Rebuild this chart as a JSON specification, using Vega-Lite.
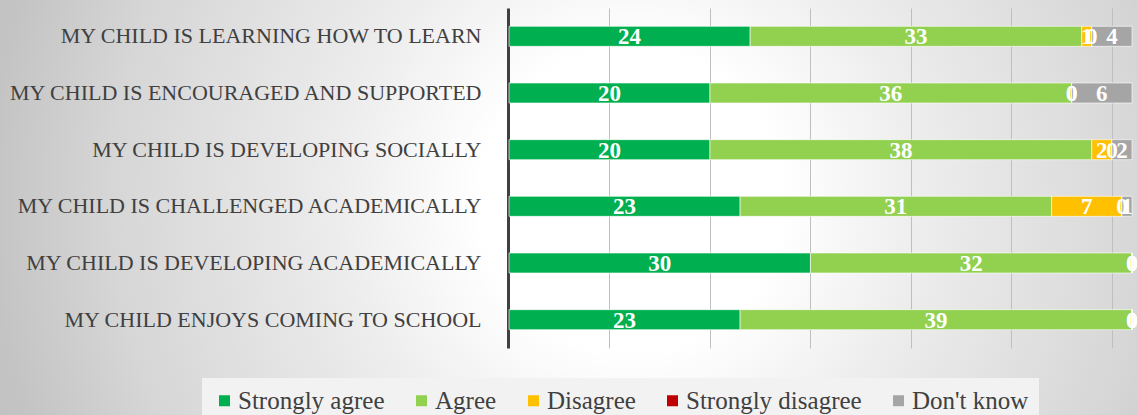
{
  "$schema": "https://vega.github.io/schema/vega-lite/v6.json",
  "width": 1137,
  "height": 415,
  "autosize": {"type": "none"},
  "padding": 0,
  "background": "#ffffff",
  "config": {
    "view": {
      "stroke": null,
      "fill": {
        "gradient": "radial",
        "x1": 0.555, "y1": 0.493, "r1": 0,
        "x2": 0.555, "y2": 0.493, "r2": 0.7,
        "stops": [
          {"offset": 0, "color": "#ffffff"},
          {"offset": 0.19, "color": "#ffffff"},
          {"offset": 0.377, "color": "#ececec"},
          {"offset": 0.653, "color": "#d6d6d6"},
          {"offset": 0.804, "color": "#c4c4c4"},
          {"offset": 1, "color": "#b9b9b9"}
        ]
      }
    },
    "legend": {
      "orient": "none",
      "legendX": 202,
      "legendY": 378,
      "direction": "horizontal",
      "symbolType": "square",
      "symbolSize": 121,
      "symbolStrokeWidth": 0,
      "symbolOpacity": 1,
      "labelFont": "Liberation Serif",
      "labelFontSize": 25,
      "labelColor": "#404040",
      "labelOffset": 1,
      "columnPadding": 24,
      "padding": 10,
      "fillColor": "#f2f2f2",
      "labelLimit": 0
    }
  },
  "data": {
    "values": [
      {"item": "MY CHILD IS LEARNING HOW TO LEARN", "response": "Strongly agree", "order": 1, "value": 24},
      {"item": "MY CHILD IS LEARNING HOW TO LEARN", "response": "Agree", "order": 2, "value": 33},
      {"item": "MY CHILD IS LEARNING HOW TO LEARN", "response": "Disagree", "order": 3, "value": 1},
      {"item": "MY CHILD IS LEARNING HOW TO LEARN", "response": "Strongly disagree", "order": 4, "value": 0},
      {"item": "MY CHILD IS LEARNING HOW TO LEARN", "response": "Don't know", "order": 5, "value": 4},
      {"item": "MY CHILD IS ENCOURAGED AND SUPPORTED", "response": "Strongly agree", "order": 1, "value": 20},
      {"item": "MY CHILD IS ENCOURAGED AND SUPPORTED", "response": "Agree", "order": 2, "value": 36},
      {"item": "MY CHILD IS ENCOURAGED AND SUPPORTED", "response": "Disagree", "order": 3, "value": 0},
      {"item": "MY CHILD IS ENCOURAGED AND SUPPORTED", "response": "Strongly disagree", "order": 4, "value": 0},
      {"item": "MY CHILD IS ENCOURAGED AND SUPPORTED", "response": "Don't know", "order": 5, "value": 6},
      {"item": "MY CHILD IS DEVELOPING SOCIALLY", "response": "Strongly agree", "order": 1, "value": 20},
      {"item": "MY CHILD IS DEVELOPING SOCIALLY", "response": "Agree", "order": 2, "value": 38},
      {"item": "MY CHILD IS DEVELOPING SOCIALLY", "response": "Disagree", "order": 3, "value": 2},
      {"item": "MY CHILD IS DEVELOPING SOCIALLY", "response": "Strongly disagree", "order": 4, "value": 0},
      {"item": "MY CHILD IS DEVELOPING SOCIALLY", "response": "Don't know", "order": 5, "value": 2},
      {"item": "MY CHILD IS CHALLENGED ACADEMICALLY", "response": "Strongly agree", "order": 1, "value": 23},
      {"item": "MY CHILD IS CHALLENGED ACADEMICALLY", "response": "Agree", "order": 2, "value": 31},
      {"item": "MY CHILD IS CHALLENGED ACADEMICALLY", "response": "Disagree", "order": 3, "value": 7},
      {"item": "MY CHILD IS CHALLENGED ACADEMICALLY", "response": "Strongly disagree", "order": 4, "value": 0},
      {"item": "MY CHILD IS CHALLENGED ACADEMICALLY", "response": "Don't know", "order": 5, "value": 1},
      {"item": "MY CHILD IS DEVELOPING ACADEMICALLY", "response": "Strongly agree", "order": 1, "value": 30},
      {"item": "MY CHILD IS DEVELOPING ACADEMICALLY", "response": "Agree", "order": 2, "value": 32},
      {"item": "MY CHILD IS DEVELOPING ACADEMICALLY", "response": "Disagree", "order": 3, "value": 0},
      {"item": "MY CHILD IS DEVELOPING ACADEMICALLY", "response": "Strongly disagree", "order": 4, "value": 0},
      {"item": "MY CHILD IS DEVELOPING ACADEMICALLY", "response": "Don't know", "order": 5, "value": 0},
      {"item": "MY CHILD ENJOYS COMING TO SCHOOL", "response": "Strongly agree", "order": 1, "value": 23},
      {"item": "MY CHILD ENJOYS COMING TO SCHOOL", "response": "Agree", "order": 2, "value": 39},
      {"item": "MY CHILD ENJOYS COMING TO SCHOOL", "response": "Disagree", "order": 3, "value": 0},
      {"item": "MY CHILD ENJOYS COMING TO SCHOOL", "response": "Strongly disagree", "order": 4, "value": 0},
      {"item": "MY CHILD ENJOYS COMING TO SCHOOL", "response": "Don't know", "order": 5, "value": 0}
    ]
  },
  "transform": [
    {"stack": "value", "groupby": ["item"], "sort": [{"field": "order", "order": "ascending"}], "as": ["v0", "v1"]},
    {"calculate": "(datum.v0 + datum.v1) / 2", "as": "mid"}
  ],
  "encoding": {
    "y": {
      "field": "item",
      "type": "nominal",
      "sort": [
        "MY CHILD IS LEARNING HOW TO LEARN",
        "MY CHILD IS ENCOURAGED AND SUPPORTED",
        "MY CHILD IS DEVELOPING SOCIALLY",
        "MY CHILD IS CHALLENGED ACADEMICALLY",
        "MY CHILD IS DEVELOPING ACADEMICALLY",
        "MY CHILD ENJOYS COMING TO SCHOOL"
      ],
      "scale": {"range": [8, 348], "paddingInner": 0.647, "paddingOuter": 0.3235},
      "axis": {
        "title": null,
        "orient": "left",
        "offset": -508,
        "domainColor": "#404040",
        "domainWidth": 3,
        "ticks": false,
        "labelPadding": 27,
        "labelFont": "Liberation Serif",
        "labelFontSize": 22,
        "labelColor": "#404040",
        "labelLimit": 0
      }
    }
  },
  "layer": [
    {
      "mark": {"type": "bar", "stroke": "#ffffff", "strokeWidth": 1, "strokeOpacity": 0.6},
      "encoding": {
        "x": {
          "field": "v0",
          "type": "quantitative",
          "scale": {"domain": [0, 62], "range": [509, 1132], "nice": false, "zero": true},
          "axis": {
            "orient": "top",
            "title": null,
            "values": [10, 20, 30, 40, 50, 60],
            "labels": false,
            "ticks": false,
            "domain": false,
            "grid": true,
            "gridColor": "#bfbfbf",
            "gridWidth": 1
          }
        },
        "x2": {"field": "v1"},
        "color": {
          "field": "response",
          "type": "nominal",
          "sort": ["Strongly agree", "Agree", "Disagree", "Strongly disagree", "Don't know"],
          "scale": {
            "domain": ["Strongly agree", "Agree", "Disagree", "Strongly disagree", "Don't know"],
            "range": ["#00b050", "#92d050", "#ffc000", "#c00000", "#a5a5a5"]
          },
          "legend": {"title": null}
        }
      }
    },
    {
      "mark": {"type": "text", "font": "Liberation Serif", "fontWeight": "bold", "fontSize": 23, "color": "#ffffff", "baseline": "middle", "align": "center", "dy": 1},
      "encoding": {
        "x": {"field": "mid", "type": "quantitative"},
        "text": {"field": "value", "type": "quantitative"}
      }
    }
  ]
}
